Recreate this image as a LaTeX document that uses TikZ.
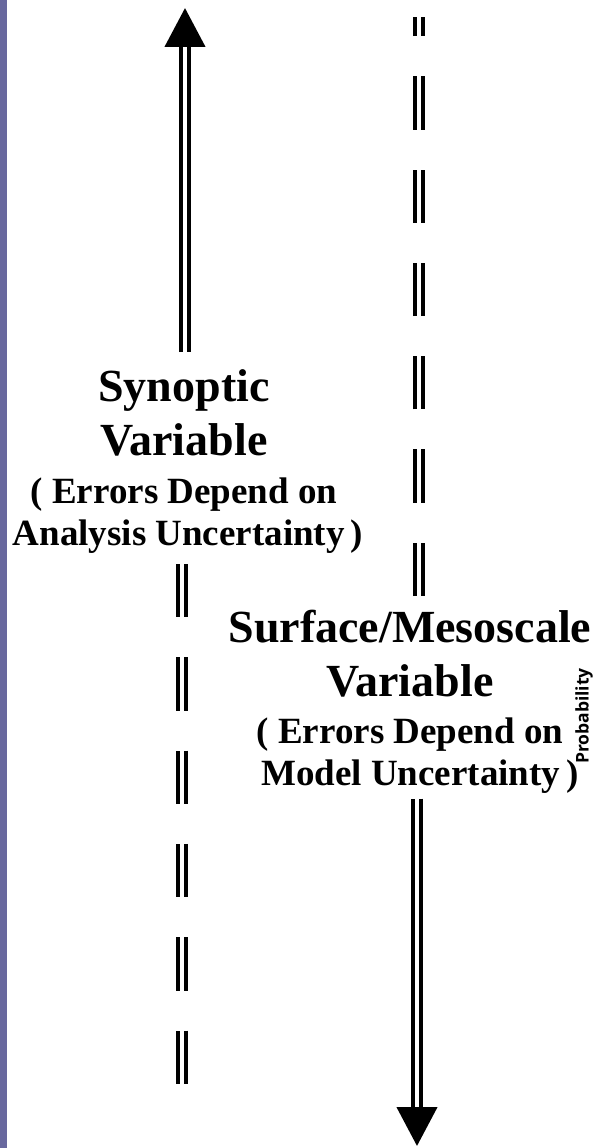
\documentclass[tikz,border=0pt]{standalone}
\usepackage{fontspec}
\setmainfont{Liberation Serif}
\newfontfamily\probfont{Open Sans}
\usetikzlibrary{arrows.meta,positioning}
\definecolor{sidebar}{RGB}{104,104,158}
\tikzset{
    dbl/.style={double, double distance=4pt, line width=4.4pt},
    dashdbl/.style={dbl, dash pattern=on 53.3pt off 40pt},
    bigtip/.style={-{Triangle[width=40pt,length=39pt]}},
    title/.style={inner sep=0pt, align=center, font=\bfseries\fontsize{46}{54}\selectfont},
    note/.style={inner sep=0pt, align=center, font=\bfseries\fontsize{37}{42}\selectfont},
}
\begin{document}
\begin{tikzpicture}[x=1pt, y=-1pt]
    % the frame
    \useasboundingbox (0,0) rectangle (601,1148);
    \fill[sidebar] (0,0) rectangle (7,1148);

    % the labels
    \node[title, anchor=north] (syn) at (184,369) {Synoptic\\Variable};
    \node[note, below=22pt of syn] (synNote) {( Errors Depend on\\\hspace*{8pt}Analysis Uncertainty\,)};
    \node[title, anchor=north] (surf) at (410,610) {Surface/Mesoscale\\Variable};
    \node[note, below=20pt of surf] (surfNote) {( Errors Depend on\\\hspace*{20pt}Model Uncertainty\,)};
    \node[rotate=90, inner sep=0pt, font=\probfont\bfseries\fontsize{17.5}{20}\selectfont] (prob) at (584,716) {Probability};

    % arrows
    \coordinate (synTop) at (185,8);
    \coordinate (synEnd) at (182,1084);
    \coordinate (surfTop) at (419,17);
    \coordinate (surfEnd) at (417,1146);

    \draw[dbl, bigtip] (syn.north) ++(1,-17) -- (synTop);
    \draw[dashdbl] (synNote.south) ++(-2,10) -- (synEnd);
    \draw[dashdbl] (surf.north) ++(9,-14) -- (surfTop);
    \draw[dbl, bigtip] (surfNote.south) ++(7,5) -- (surfEnd);
\end{tikzpicture}
\end{document}
